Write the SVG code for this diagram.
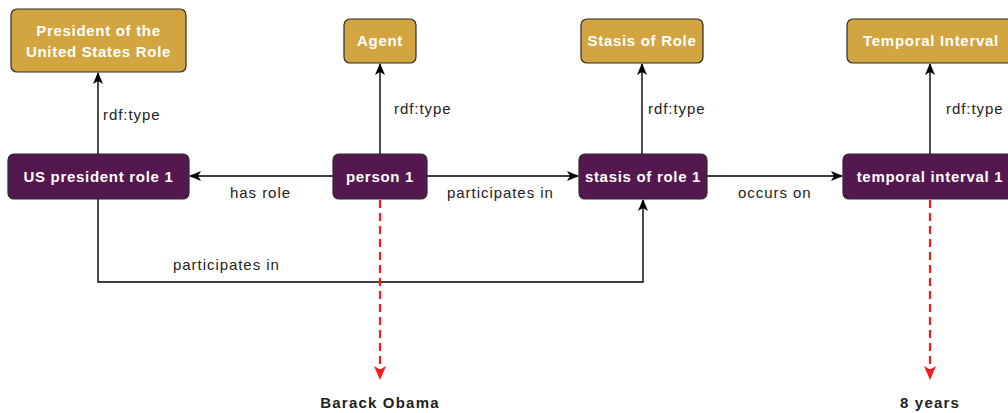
<svg xmlns="http://www.w3.org/2000/svg" width="1008" height="413" viewBox="0 0 1008 413">
<style>
.cls rect{fill:#D2A540;stroke:#2b2b2b;stroke-width:1.2}
.inst rect{fill:#54184F;stroke:#2b2b2b;stroke-width:1.2}
.nt{font-family:"Liberation Sans",Arial,sans-serif;font-size:15px;font-weight:bold;fill:#ffffff;text-anchor:middle;letter-spacing:0.7px}
.el{font-family:"Liberation Sans",Arial,sans-serif;font-size:15px;fill:#222;letter-spacing:0.95px}
.lit{font-family:"Liberation Sans",Arial,sans-serif;font-size:15px;font-weight:bold;fill:#222;text-anchor:middle;letter-spacing:1.2px}
.e{fill:none;stroke:#000;stroke-width:1.4}
.r{fill:none;stroke:#ff1a1a;stroke-width:2.2;stroke-dasharray:8 5}
</style>
<defs>
<marker id="ah" viewBox="0 0 12 10" refX="11" refY="5" markerWidth="12" markerHeight="10" markerUnits="userSpaceOnUse" orient="auto">
<path d="M0,0 L12,5 L0,10 L3,5 Z" fill="#000"/>
</marker>
<marker id="rh" viewBox="0 0 14 12" refX="13" refY="6" markerWidth="14" markerHeight="12" markerUnits="userSpaceOnUse" orient="auto">
<path d="M0,0 L14,6 L0,12 L3.5,6 Z" fill="#ff1a1a"/>
</marker>
</defs>
<g id="connectors">
<line class="e" x1="98" y1="154" x2="98" y2="73" marker-end="url(#ah)"/>
<line class="e" x1="380" y1="154" x2="380" y2="64" marker-end="url(#ah)"/>
<line class="e" x1="642" y1="154" x2="642" y2="64" marker-end="url(#ah)"/>
<line class="e" x1="930" y1="154" x2="930" y2="64" marker-end="url(#ah)"/>
<line class="e" x1="333" y1="176" x2="190" y2="176" marker-end="url(#ah)"/>
<line class="e" x1="427" y1="176" x2="578" y2="176" marker-end="url(#ah)"/>
<line class="e" x1="707" y1="176" x2="842" y2="176" marker-end="url(#ah)"/>
<polyline class="e" points="98,199 98,282 643,282 643,200" marker-end="url(#ah)"/>
<line class="r" x1="380" y1="200" x2="380" y2="379" marker-end="url(#rh)"/>
<line class="r" x1="930" y1="200" x2="930" y2="379" marker-end="url(#rh)"/>
<text class="el" x="103" y="120">rdf:type</text>
<text class="el" x="394" y="114">rdf:type</text>
<text class="el" x="648" y="114">rdf:type</text>
<text class="el" x="946" y="114">rdf:type</text>
<text class="el" x="230" y="198">has role</text>
<text class="el" x="447" y="198">participates in</text>
<text class="el" x="738" y="198">occurs on</text>
<text class="el" x="173" y="270">participates in</text>
</g>
<g id="n-president-role" class="cls">
<rect x="11" y="9" width="175" height="63" rx="6"/>
<text class="nt" x="98.5" y="36">President of the</text>
<text class="nt" x="98.5" y="57">United States Role</text>
</g>
<g id="n-agent" class="cls">
<rect x="344" y="19" width="72" height="44" rx="6"/>
<text class="nt" x="380" y="46">Agent</text>
</g>
<g id="n-stasis-of-role" class="cls">
<rect x="581" y="19" width="122" height="44" rx="6"/>
<text class="nt" x="642" y="46">Stasis of Role</text>
</g>
<g id="n-temporal-interval" class="cls">
<rect x="847" y="19" width="168" height="44" rx="6"/>
<text class="nt" x="931" y="46">Temporal Interval</text>
</g>
<g id="n-us-president-role-1" class="inst">
<rect x="8" y="154" width="181" height="45" rx="6"/>
<text class="nt" x="98.5" y="182">US president role 1</text>
</g>
<g id="n-person-1" class="inst">
<rect x="333" y="154" width="94" height="45" rx="6"/>
<text class="nt" x="380" y="182">person 1</text>
</g>
<g id="n-stasis-of-role-1" class="inst">
<rect x="579" y="154" width="128" height="45" rx="6"/>
<text class="nt" x="643" y="182">stasis of role 1</text>
</g>
<g id="n-temporal-interval-1" class="inst">
<rect x="843" y="154" width="174" height="45" rx="6"/>
<text class="nt" x="930" y="182">temporal interval 1</text>
</g>
<g id="n-barack-obama">
<text class="lit" x="380" y="408">Barack Obama</text>
</g>
<g id="n-8-years">
<text class="lit" x="930" y="408">8 years</text>
</g>
</svg>
